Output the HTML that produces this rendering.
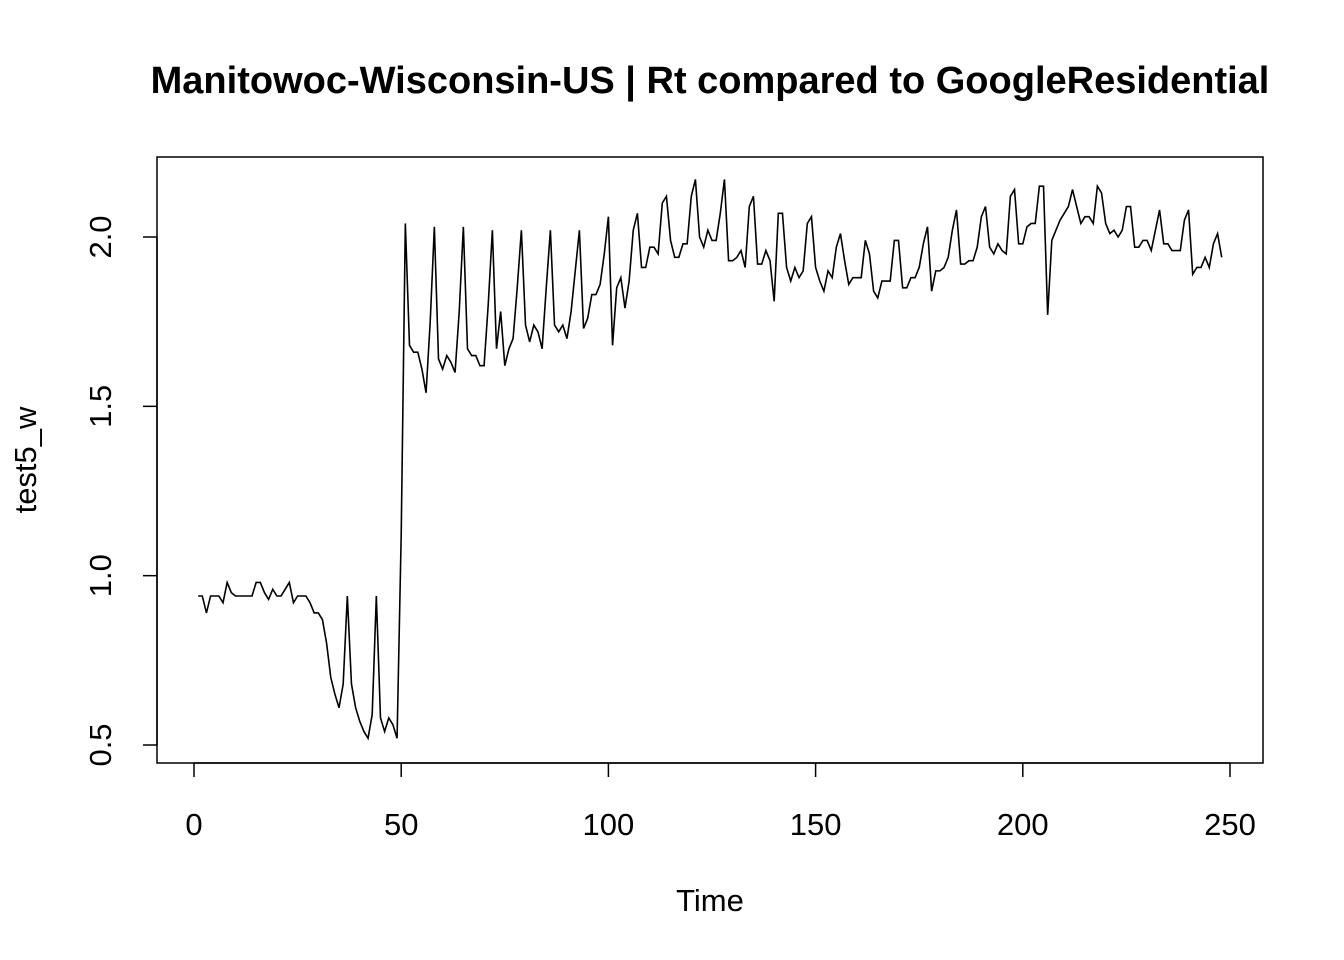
<!DOCTYPE html>
<html><head><meta charset="utf-8"><style>body{margin:0;background:#fff}svg{display:block;font-family:"Liberation Sans",Arial,sans-serif}</style></head>
<body>
<svg id="chart" width="1344" height="960" viewBox="0 0 1344 960">
<text x="710" y="93" text-anchor="middle" font-size="38" font-weight="bold">Manitowoc-Wisconsin-US | Rt compared to GoogleResidential</text>
<rect x="157" y="157" width="1106" height="606" fill="none" stroke="#000" stroke-width="1.5"/>
<text x="710" y="911" text-anchor="middle" font-size="31">Time</text>
<text transform="translate(36,460) rotate(-90)" text-anchor="middle" font-size="31">test5_w</text>
<g id="axes"></g>
<path id="series" fill="none" stroke="#000" stroke-width="1.6"/>
</svg>
<script>
const values=[0.94,0.94,0.89,0.94,0.94,0.94,0.92,0.98,0.95,0.94,0.94,0.94,0.94,0.94,0.98,0.98,0.95,0.93,0.96,0.94,0.94,0.96,0.98,0.92,0.94,0.94,0.94,0.92,0.89,0.89,0.87,0.80,0.70,0.65,0.61,0.68,0.94,0.68,0.61,0.57,0.54,0.52,0.59,0.94,0.58,0.54,0.58,0.56,0.52,1.12,
2.04,1.68,1.66,1.66,1.61,1.54,1.75,2.03,1.64,1.61,1.65,1.63,1.60,1.78,2.03,1.67,1.65,1.65,1.62,1.62,1.80,2.02,1.67,1.78,1.62,1.67,1.70,1.85,2.02,1.74,1.69,1.74,1.72,1.67,1.85,2.02,1.74,1.72,1.74,1.70,1.78,1.90,2.02,1.73,1.76,1.83,1.83,1.86,1.95,2.06,
1.68,1.85,1.88,1.79,1.87,2.02,2.07,1.91,1.91,1.97,1.97,1.95,2.10,2.12,1.99,1.94,1.94,1.98,1.98,2.12,2.17,2.00,1.97,2.02,1.99,1.99,2.07,2.17,1.93,1.93,1.94,1.96,1.91,2.09,2.12,1.92,1.92,1.96,1.93,1.81,2.07,2.07,1.91,1.87,1.91,1.88,1.90,2.04,2.06,1.91,
1.87,1.84,1.90,1.88,1.97,2.01,1.93,1.86,1.88,1.88,1.88,1.99,1.95,1.84,1.82,1.87,1.87,1.87,1.99,1.99,1.85,1.85,1.88,1.88,1.91,1.98,2.03,1.84,1.90,1.90,1.91,1.94,2.02,2.08,1.92,1.92,1.93,1.93,1.97,2.06,2.09,1.97,1.95,1.98,1.96,1.95,2.12,2.14,1.98,1.98,
2.03,2.04,2.04,2.15,2.15,1.77,1.99,2.02,2.05,2.07,2.09,2.14,2.09,2.04,2.06,2.06,2.04,2.15,2.13,2.04,2.01,2.02,2.00,2.02,2.09,2.09,1.97,1.97,1.99,1.99,1.96,2.02,2.08,1.98,1.98,1.96,1.96,1.96,2.05,2.08,1.89,1.91,1.91,1.94,1.91,1.98,2.01,1.94];
const xTicks=[0,50,100,150,200,250];
const yTicks=[0.5,1.0,1.5,2.0];
const yTickLabels=["0.5","1.0","1.5","2.0"];
const NS="http://www.w3.org/2000/svg";
function xs(t){return 194+(t/250)*1036;}
function ys(v){return 237+(2.0-v)*338.67;}
let d="";
values.forEach((v,i)=>{d+=(i?"L":"M")+xs(i+1).toFixed(2)+","+ys(v).toFixed(2);});
document.getElementById("series").setAttribute("d",d);
const ax=document.getElementById("axes");
function mk(tag,attrs){const e=document.createElementNS(NS,tag);for(const k in attrs)e.setAttribute(k,attrs[k]);ax.appendChild(e);return e;}
const xl=mk("line",{x1:xs(0),x2:xs(250),y1:763,y2:763,stroke:"#000","stroke-width":1.5});


xTicks.forEach(t=>{
 const l=mk("line",{x1:xs(t),x2:xs(t),y1:763,y2:777,stroke:"#000","stroke-width":1.5});
 
 
 const tx=mk("text",{x:xs(t),y:835,"text-anchor":"middle","font-size":31});
 tx.textContent=t;
 
 
});
const yl=mk("line",{x1:157,x2:157,y1:ys(0.5),y2:ys(2.0),stroke:"#000","stroke-width":1.5});


yTicks.forEach((v,i)=>{
 const l=mk("line",{x1:143,x2:157,y1:ys(v),y2:ys(v),stroke:"#000","stroke-width":1.5});
 
 
 const tx=mk("text",{transform:"translate(111,"+ys(v)+") rotate(-90)","text-anchor":"middle","font-size":31});
 tx.textContent=yTickLabels[i];
 
 
});
</script>
</body></html>
